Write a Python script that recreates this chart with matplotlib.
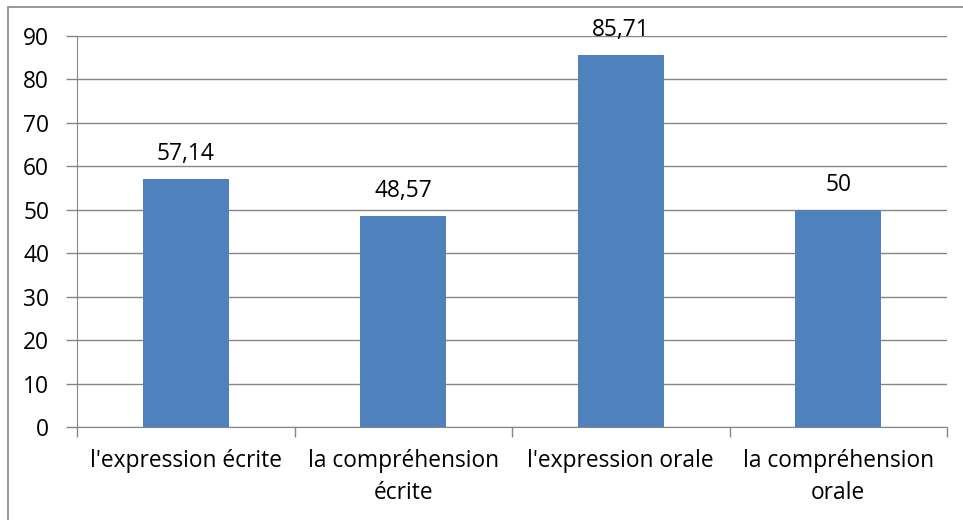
import matplotlib
matplotlib.use("Agg")
from matplotlib import pyplot as plt
from matplotlib.patches import Rectangle

# chart data
categories = ["l'expression écrite", "la compréhension\nécrite", "l'expression orale", "la compréhension\norale"]
values = [57.14, 48.57, 85.71, 50]
value_labels = ["57,14", "48,57", "85,71", "50"]
y_ticks = [0, 10, 20, 30, 40, 50, 60, 70, 80, 90]

plt.rcParams['font.family'] = ['Open Sans', 'DejaVu Sans']
fs = 16.4

fig = plt.figure(figsize=(9.63, 5.2), dpi=100)
ax = fig.add_axes([77 / 963, 1 - 427 / 520, (947 - 77) / 963, (427 - 36) / 520])

# outer frame of the chart area, only its left and top edges fall inside the picture
fig.patches.append(Rectangle((8 / 963, -20 / 520), 1000 / 963, (513 + 20) / 520, transform=fig.transFigure,
                             fill=False, edgecolor="#868686", linewidth=1.2))

x = range(len(categories))
ax.bar(x, values, width=0.395, color="#4F81BD", zorder=3)

for i, v in enumerate(values):
    ax.text(i, v + 4.4, value_labels[i], ha="center", va="baseline", fontsize=fs, color="black")

ax.set_xlim(-0.5, len(categories) - 0.5)
ax.set_ylim(0, 90)
ax.set_yticks(y_ticks)
ax.set_yticklabels([str(t) for t in y_ticks], fontsize=fs)
ax.yaxis.grid(True, color="#868686", linewidth=1, zorder=0)

# category labels centred, tick marks at category boundaries
ax.set_xticks(list(x))
ax.set_xticklabels(categories, fontsize=fs, linespacing=1.45)
ax.tick_params(axis="x", length=0, pad=16)
ax.set_xticks([i - 0.5 for i in range(len(categories) + 1)], minor=True)
ax.tick_params(axis="x", which="minor", length=7, color="#868686", width=1)
ax.tick_params(axis="y", length=8, color="#868686", width=1, pad=12)

for side in ["top", "right"]:
    ax.spines[side].set_visible(False)
for side in ["left", "bottom"]:
    ax.spines[side].set_color("#868686")

fig.savefig("out.png", dpi=100)
